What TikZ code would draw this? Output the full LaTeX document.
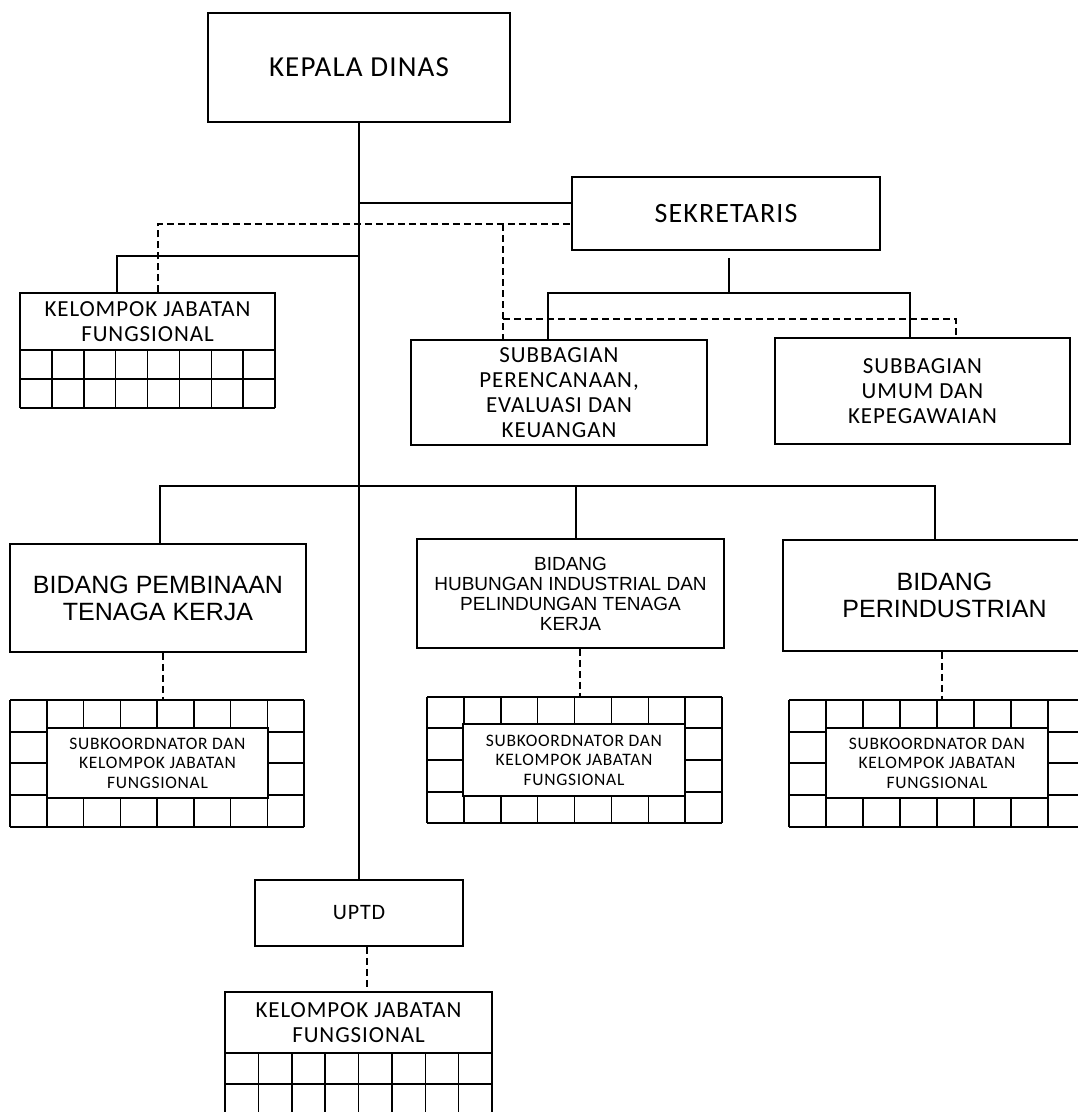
\documentclass[tikz,border=0pt]{standalone}
\usepackage{fontspec}
\newfontfamily\calfont[LetterSpace=4]{Carlito}
\newfontfamily\arifont{Liberation Sans}
\tikzset{
  box/.style={draw, line width=1.5pt, inner sep=0pt, align=center, fill=white},
  conn/.style={line width=1.5pt},
  dashline/.style={line width=1.5pt, dash pattern=on 7pt off 4pt},
  gridline/.style={line width=1.5pt},
}
\begin{document}
\begin{tikzpicture}[x=1pt,y=-1pt]
\useasboundingbox (0,0) rectangle (1078,1112);
% ---------- boxes ----------
\node[box, minimum width=302pt, minimum height=109pt, font=\calfont\fontsize{29}{34}\selectfont] (kd) at (359,67.5) {KEPALA DINAS};
\node[box, minimum width=308pt, minimum height=73pt, font=\calfont\fontsize{28}{32}\selectfont] (sek) at (726,213.5) {SEKRETARIS};
\node[box, minimum width=255pt, minimum height=57pt, font=\calfont\fontsize{23}{25}\selectfont] (kjf1) at (147.5,321.5) {KELOMPOK JABATAN\\FUNGSIONAL};
\node[box, minimum width=296pt, minimum height=105pt, font=\calfont\fontsize{23}{25}\selectfont] (spe) at (559,392.5) {SUBBAGIAN\\PERENCANAAN,\\EVALUASI DAN\\KEUANGAN};
\node[box, minimum width=295pt, minimum height=106pt, font=\calfont\fontsize{23}{25}\selectfont] (sum) at (922.5,391) {SUBBAGIAN\\UMUM DAN\\KEPEGAWAIAN};
\node[box, minimum width=296pt, minimum height=108pt, font=\arifont\fontsize{25}{27}\selectfont] (bp) at (158,598) {BIDANG PEMBINAAN\\TENAGA KERJA};
\node[box, minimum width=307pt, minimum height=109pt, font=\arifont\fontsize{19}{20}\selectfont] (bh) at (570.5,593.5) {BIDANG\\HUBUNGAN INDUSTRIAL DAN\\PELINDUNGAN TENAGA\\KERJA};
\node[box, minimum width=323pt, minimum height=111pt, font=\arifont\fontsize{25}{27}\selectfont] (bi) at (944.5,595.5) {BIDANG\\PERINDUSTRIAN};
\node[box, minimum width=208pt, minimum height=66pt, font=\calfont\fontsize{22}{26}\selectfont] (uptd) at (359,913) {UPTD};
\node[box, minimum width=267pt, minimum height=61pt, font=\calfont\fontsize{23}{25}\selectfont] (kjf2) at (358.5,1022.5) {KELOMPOK JABATAN\\FUNGSIONAL};
% ---------- grids under KJF boxes ----------
\foreach \i in {0,...,8} \draw[gridline] ({20+\i*31.875},350) -- ({20+\i*31.875},408);
\foreach \y in {379,408} \draw[gridline] (20,\y) -- (275,\y);
\foreach \i in {0,...,8} \draw[gridline] ({225+\i*33.375},1053) -- ({225+\i*33.375},1115);
\foreach \y in {1084,1115} \draw[gridline] (225,\y) -- (492,\y);
% ---------- grids round subkoordinator boxes ----------
\foreach \i in {0,...,8} \draw[gridline] ({10+\i*36.75},700) -- ({10+\i*36.75},827);
\foreach \y in {700,732,763,795,827} \draw[gridline] (10,\y) -- (304,\y);
\foreach \i in {0,...,8} \draw[gridline] ({427+\i*36.875},697) -- ({427+\i*36.875},823);
\foreach \y in {697,728,760,792,823} \draw[gridline] (427,\y) -- (722,\y);
\foreach \i in {0,...,8} \draw[gridline] ({789+\i*37},700) -- ({789+\i*37},827);
\foreach \y in {700,732,763,795,827} \draw[gridline] (789,\y) -- (1085,\y);
\node[box, minimum width=221pt, minimum height=70pt, font=\calfont\fontsize{17.5}{19.5}\selectfont] (sk1) at (157.5,763) {SUBKOORDNATOR DAN\\KELOMPOK JABATAN\\FUNGSIONAL};
\node[box, minimum width=222pt, minimum height=72pt, font=\calfont\fontsize{17.5}{19.5}\selectfont] (sk2) at (574,760) {SUBKOORDNATOR DAN\\KELOMPOK JABATAN\\FUNGSIONAL};
\node[box, minimum width=222pt, minimum height=70pt, font=\calfont\fontsize{17.5}{19.5}\selectfont] (sk3) at (937,763) {SUBKOORDNATOR DAN\\KELOMPOK JABATAN\\FUNGSIONAL};
% ---------- coordinates ----------
\coordinate (a1) at (360,203);
\coordinate (d1) at (158,224);
\coordinate (d2) at (503,224);
\coordinate (d3) at (503,319);
\coordinate (d4) at (956,319);
\coordinate (s1) at (360,256);
\coordinate (s2) at (117,256);
\coordinate (b1) at (729,293);
\coordinate (b2) at (548,293);
\coordinate (b3) at (910,293);
\coordinate (c1) at (160,486);
\coordinate (c2) at (576,486);
\coordinate (c3) at (935,486);
\coordinate (g1t) at (163,700);
\coordinate (g2t) at (580,697);
\coordinate (g3t) at (942,700);
\coordinate (u1) at (367,992);
% ---------- connectors ----------
\draw[conn] (kd.south) -- (uptd.north);
\draw[conn] (kd.south |- a1) -- (a1 -| sek.west);
\draw[dashline] (kjf1.north -| d1) -- (d1) -- (d1 -| sek.west);
\draw[dashline] (d2) -- (d2 |- spe.north);
\draw[dashline] (d3) -- (d4) -- (d4 |- sum.north);
\draw[conn] (kd.south |- s1) -- (s2) -- (s2 |- kjf1.north);
\draw[conn] ([yshift=-7pt]sek.south -| b1) -- (b1);
\draw[conn] (b2 |- spe.north) -- (b2) -- (b3) -- (b3 |- sum.north);
\draw[conn] (c1 |- bp.north) -- (c1) -- (c3) -- (c3 |- bi.north);
\draw[conn] (c2) -- (c2 |- bh.north);
\draw[dashline] (g1t |- bp.south) -- (g1t);
\draw[dashline] (g2t |- bh.south) -- (g2t);
\draw[dashline] (g3t |- bi.south) -- (g3t);
\draw[dashline] (u1 |- uptd.south) -- (u1 |- kjf2.north);
\end{tikzpicture}
\end{document}
